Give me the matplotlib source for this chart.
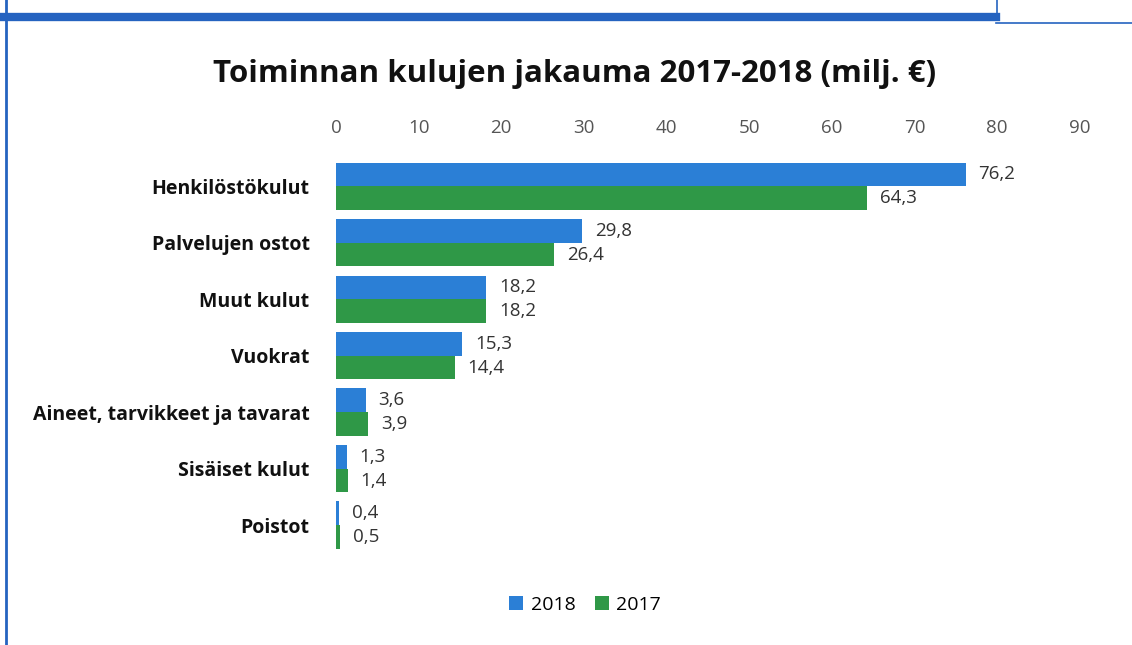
import numpy as np
import matplotlib.pyplot as plt
from matplotlib.lines import Line2D

categories = ['Henkilöstökulut', 'Palvelujen ostot', 'Muut kulut', 'Vuokrat',
              'Aineet, tarvikkeet ja tavarat', 'Sisäiset kulut', 'Poistot']
v2018 = [76.2, 29.8, 18.2, 15.3, 3.6, 1.3, 0.4]
v2017 = [64.3, 26.4, 18.2, 14.4, 3.9, 1.4, 0.5]
ticks = [0, 10, 20, 30, 40, 50, 60, 70, 80, 90]

blue = '#2b7fd6'
green = '#2f9847'

plt.rcParams['font.family'] = ['Open Sans', 'DejaVu Sans']

fig = plt.figure(figsize=(11.32, 6.45), dpi=100)
ax = fig.add_axes([0.2968, 0.142, 0.657, 0.613])

y = np.arange(len(categories))
h = 0.42
b1 = ax.barh(y - h / 2, v2018, height=h, color=blue, label='2018')
b2 = ax.barh(y + h / 2, v2017, height=h, color=green, label='2017')

for bars, vals in ((b1, v2018), (b2, v2017)):
    for bar, v in zip(bars, vals):
        ax.annotate(f'{v:.1f}'.replace('.', ','),
                    (bar.get_width(), bar.get_y() + bar.get_height() / 2),
                    xytext=(9, 0), textcoords='offset points',
                    va='center', ha='left', fontsize=13.5, color='#333333')

ax.set_xlim(0, 90)
ax.set_ylim(len(categories) - 0.5, -0.5)
ax.set_xticks(ticks)
ax.xaxis.tick_top()
ax.tick_params(axis='x', length=0, labelsize=13.5, labelcolor='#555555', pad=15)
ax.set_yticks(y)
ax.set_yticklabels(categories, fontsize=14, fontweight='bold', color='#111111')
ax.tick_params(axis='y', length=0, pad=19)
for s in ax.spines.values():
    s.set_visible(False)

fig.text(0.508, 0.885, 'Toiminnan kulujen jakauma 2017-2018 (milj. €)',
         ha='center', va='center', fontsize=22.5, fontweight='bold', color='#111111')

fig.legend(handles=[b1, b2], labels=['2018', '2017'], loc='center',
           bbox_to_anchor=(0.517, 0.062), ncol=2, frameon=False,
           fontsize=14, handlelength=0.7, handleheight=0.7,
           columnspacing=1.0, handletextpad=0.4)

# scan borders
fig.add_artist(Line2D([0, 0.88], [0.973, 0.973], transform=fig.transFigure,
                      color='#2563c0', linewidth=6))
fig.add_artist(Line2D([0.88, 1.0], [0.965, 0.965], transform=fig.transFigure,
                      color='#2563c0', linewidth=1.2))
fig.add_artist(Line2D([0.881, 0.881], [0.97, 1.0], transform=fig.transFigure,
                      color='#2563c0', linewidth=1.2))
fig.add_artist(Line2D([0.005, 0.005], [0, 1], transform=fig.transFigure,
                      color='#2563c0', linewidth=2))

fig.savefig('out.png', dpi=100)
